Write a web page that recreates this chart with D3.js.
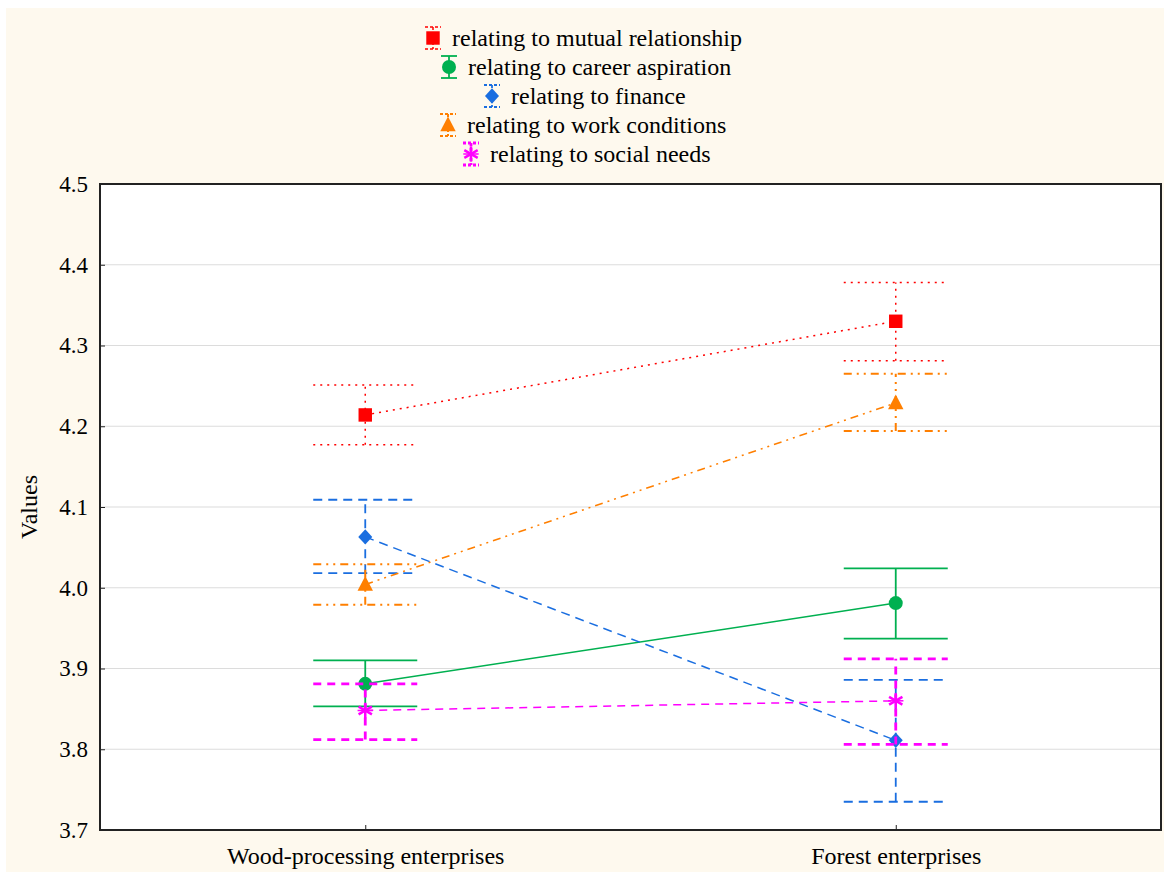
<!DOCTYPE html>
<html>
<head>
<meta charset="utf-8">
<script src="https://cdn.jsdelivr.net/npm/d3@7"></script>
</head>
<body style="margin:0">
<svg id="chart" width="1164" height="874"></svg>
<script>
/* DATA */
const categories = ["Wood-processing enterprises", "Forest enterprises"];
const seriesNames = [
  "relating to mutual relationship",
  "relating to career aspiration",
  "relating to finance",
  "relating to work conditions",
  "relating to social needs"
];
// means per category (wood, forest)
const meanMutual = [4.214, 4.330];
const meanCareer = [3.881, 3.981];
const meanFinance = [4.063, 3.811];
const meanWork = [4.004, 4.229];
const meanSocial = [3.848, 3.860];
// error bar limits
const lowMutual = [4.177, 4.281], highMutual = [4.251, 4.378];
const lowCareer = [3.853, 3.937], highCareer = [3.910, 4.024];
const lowFinance = [4.018, 3.735], highFinance = [4.109, 3.886];
const lowWork = [3.979, 4.194], highWork = [4.029, 4.265];
const lowSocial = [3.812, 3.806], highSocial = [3.881, 3.912];
const yTicks = [3.7, 3.8, 3.9, 4.0, 4.1, 4.2, 4.3, 4.4, 4.5];

/* CONSTANTS */
const width = 1164, height = 874;
const margin = { top: 184, bottom: 44, left: 100, right: 3 };
const FONT = "Liberation Serif";
// legend layout: where each row's text begins (rows are centred on their own)
const legendTextX = [452, 468, 511, 467, 490];

const svg = d3.select("#chart");

// cream background
svg.append("rect")
  .attr("x", 6).attr("y", 8)
  .attr("width", width - 6).attr("height", height - 10)
  .attr("fill", "#fef9ee");

// plot area
svg.append("rect")
  .attr("x", margin.left).attr("y", margin.top)
  .attr("width", width - margin.left - margin.right)
  .attr("height", height - margin.top - margin.bottom)
  .attr("fill", "#ffffff");

const x = d3.scalePoint()
  .domain(categories)
  .range([margin.left, width - margin.right])
  .padding(0.5);

const y = d3.scaleLinear()
  .domain([3.7, 4.5])
  .range([height - margin.bottom, margin.top]);

// grid lines
svg.append("g")
  .selectAll("line")
  .data(yTicks.slice(1, -1))
  .join("line")
    .attr("x1", margin.left).attr("x2", width - margin.right)
    .attr("y1", d => y(d)).attr("y2", d => y(d))
    .attr("stroke", "#dcdcdc").attr("stroke-width", 1.2);

// axes
const yAxis = svg.append("g")
  .attr("transform", `translate(${margin.left},0)`)
  .call(d3.axisRight(y).tickValues(yTicks).tickFormat(d3.format(".1f")).tickSize(5));
yAxis.attr("font-family", null).attr("font-size", null);
yAxis.select(".domain").remove();
yAxis.selectAll("text")
  .attr("x", -12).attr("text-anchor", "end").attr("fill", "#000")
  .attr("font-family", FONT).attr("font-size", 23)
  .style("font-family", FONT);
yAxis.selectAll("line").attr("stroke", "#222");

const xAxis = svg.append("g")
  .attr("transform", `translate(0,${height - margin.bottom})`)
  .call(d3.axisTop(x).tickSize(5));
xAxis.attr("font-family", null).attr("font-size", null);
xAxis.select(".domain").remove();
xAxis.selectAll("line").attr("stroke", "#222");
xAxis.selectAll("text")
  .attr("y", 34).attr("dy", 0).attr("fill", "#000")
  .attr("font-family", FONT).attr("font-size", 24)
  .style("font-family", FONT);

// frame
svg.append("rect")
  .attr("x", margin.left).attr("y", margin.top)
  .attr("width", width - margin.left - margin.right)
  .attr("height", height - margin.top - margin.bottom)
  .attr("fill", "none").attr("stroke", "#222").attr("stroke-width", 2);

// axis title
svg.append("text")
  .attr("transform", `translate(37,${(margin.top + height - margin.bottom) / 2}) rotate(-90)`)
  .attr("text-anchor", "middle")
  .attr("font-family", FONT).attr("font-size", 24)
  .style("font-family", FONT)
  .text("Values");

/* SERIES */
const series = [
  { name: seriesNames[0], mean: meanMutual, low: lowMutual, high: highMutual,
    color: "#ff0000", dash: "2,5", lw: 1.5, ew: 1.5, shape: "square" },
  { name: seriesNames[1], mean: meanCareer, low: lowCareer, high: highCareer,
    color: "#00b050", dash: null, lw: 1.5, ew: 1.8, shape: "circle" },
  { name: seriesNames[2], mean: meanFinance, low: lowFinance, high: highFinance,
    color: "#1a6ee0", dash: "9,6", lw: 1.5, ew: 1.8, shape: "diamond" },
  { name: seriesNames[3], mean: meanWork, low: lowWork, high: highWork,
    color: "#ff7f00", dash: "8,5,2,5,2,5", lw: 1.5, ew: 2, shape: "triangle" },
  { name: seriesNames[4], mean: meanSocial, low: lowSocial, high: highSocial,
    color: "#ff00ff", dash: "8,6", lw: 1.5, ew: 2.8, shape: "asterisk" }
];

function drawMarker(g, shape, color, cx, cy, s) {
  if (shape === "square") {
    g.append("rect").attr("x", cx - s * 0.48).attr("y", cy - s * 0.48)
      .attr("width", s * 0.96).attr("height", s * 0.96).attr("fill", color);
  } else if (shape === "circle") {
    g.append("circle").attr("cx", cx).attr("cy", cy).attr("r", s * 0.5).attr("fill", color);
  } else if (shape === "diamond") {
    g.append("path").attr("d", `M${cx},${cy - s * 0.55}L${cx + s * 0.5},${cy}L${cx},${cy + s * 0.55}L${cx - s * 0.5},${cy}Z`)
      .attr("fill", color);
  } else if (shape === "triangle") {
    g.append("path").attr("d", `M${cx},${cy - s * 0.6}L${cx + s * 0.55},${cy + s * 0.45}L${cx - s * 0.55},${cy + s * 0.45}Z`)
      .attr("fill", color);
  } else if (shape === "asterisk") {
    const r = s * 0.55;
    [0, 60, 120].forEach(a => {
      const rad = (a + 90) * Math.PI / 180;
      g.append("line")
        .attr("x1", cx - r * Math.cos(rad)).attr("y1", cy - r * Math.sin(rad))
        .attr("x2", cx + r * Math.cos(rad)).attr("y2", cy + r * Math.sin(rad))
        .attr("stroke", color).attr("stroke-width", 2.5);
    });
    g.append("line").attr("x1", cx - r).attr("x2", cx + r).attr("y1", cy).attr("y2", cy)
      .attr("stroke", color).attr("stroke-width", 1.5);
  }
}

const capHalf = 52;
const marks = svg.append("g");

series.forEach(s => {
  const g = marks.append("g");
  const pts = categories.map((c, i) => ({ c, m: s.mean[i], lo: s.low[i], hi: s.high[i] }));

  // error bars
  pts.forEach(p => {
    const cx = x(p.c);
    [p.lo, p.hi].forEach(v => {
      g.append("line")
        .attr("x1", cx - capHalf).attr("x2", cx + capHalf)
        .attr("y1", y(v)).attr("y2", y(v))
        .attr("stroke", s.color).attr("stroke-width", s.ew)
        .attr("stroke-dasharray", s.dash);
    });
    g.append("line")
      .attr("x1", cx).attr("x2", cx)
      .attr("y1", y(p.lo)).attr("y2", y(p.hi))
      .attr("stroke", s.color).attr("stroke-width", s.ew)
      .attr("stroke-dasharray", s.dash);
  });

  // connecting line
  g.append("path")
    .datum(pts)
    .attr("d", d3.line().x(p => x(p.c)).y(p => y(p.m)))
    .attr("fill", "none")
    .attr("stroke", s.color).attr("stroke-width", s.lw)
    .attr("stroke-dasharray", s.dash);

  pts.forEach(p => drawMarker(g, s.shape, s.color, x(p.c), y(p.m), 14));
});

/* LEGEND */
const legendTop = 38, legendStep = 29;
const legend = svg.append("g");

series.forEach((s, i) => {
  const row = legend.append("g");
  const cy = legendTop + i * legendStep;
  const tx = legendTextX[i];
  const sx = tx - 19;
  row.append("text")
    .attr("x", tx).attr("y", cy + 8)
    .attr("font-family", FONT).attr("font-size", 24)
    .style("font-family", FONT)
    .text(s.name);

  // small error bar
  [cy - 11, cy + 11].forEach(yy => {
    row.append("line")
      .attr("x1", sx - 8).attr("x2", sx + 8).attr("y1", yy).attr("y2", yy)
      .attr("stroke", s.color).attr("stroke-width", s.ew)
      .attr("stroke-dasharray", s.dash ? "3,2" : null);
  });
  row.append("line")
    .attr("x1", sx).attr("x2", sx).attr("y1", cy - 11).attr("y2", cy + 11)
    .attr("stroke", s.color).attr("stroke-width", s.ew)
    .attr("stroke-dasharray", s.dash ? "3,2" : null);
  drawMarker(row, s.shape, s.color, sx, cy, 14);
});
</script>
</body>
</html>
